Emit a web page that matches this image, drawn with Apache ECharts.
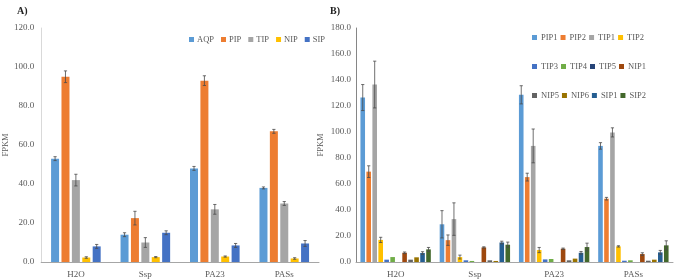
<!DOCTYPE html>
<html><head><meta charset="utf-8">
<script src="https://cdn.jsdelivr.net/npm/echarts@6/dist/echarts.min.js"></script>
<style>html,body{margin:0;padding:0;background:#fff}#c{width:675px;height:279px}</style>
</head><body><div id="c"></div>
<script>
const categories = ['H2O', 'Ssp', 'PA23', 'PASs'];

// Panel A
const namesA = ['AQP', 'PIP', 'TIP', 'NIP', 'SIP'];
const AQP = [53.0, 14.0, 48.0, 38.0];
const PIP = [95.0, 22.5, 93.0, 67.0];
const TIP = [42.0, 10.0, 27.0, 30.0];
const NIP = [2.3, 2.5, 2.8, 1.8];
const SIP = [8.0, 15.0, 8.5, 9.5];
const errAQP = [1.0, 1.0, 1.0, 0.5];
const errPIP = [3.0, 3.5, 2.5, 1.0];
const errTIP = [3.0, 2.5, 2.5, 1.0];
const errNIP = [0.4, 0.3, 0.3, 0.4];
const errSIP = [1.0, 1.0, 1.0, 1.5];

// Panel B
const namesB = ['PIP1','PIP2','TIP1','TIP2','TIP3','TIP4','TIP5','NIP1','NIP5','NIP6','SIP1','SIP2'];
const PIP1 = [126.5, 29.0, 128.6, 89.3];
const PIP2 = [69.5, 16.8, 65.3, 48.7];
const TIP1 = [136.5, 33.0, 89.3, 99.7];
const TIP2 = [17.0, 3.8, 9.2, 12.0];
const TIP3 = [1.8, 1.3, 2.0, 1.0];
const TIP4 = [3.8, 0.8, 2.3, 1.3];
const TIP5 = [0.0, 0.0, 0.0, 0.0];
const NIP1 = [7.1, 11.2, 10.2, 6.1];
const NIP5 = [1.8, 1.3, 1.3, 1.0];
const NIP6 = [3.6, 0.8, 2.6, 1.8];
const SIP1 = [6.9, 15.0, 7.1, 7.4];
const SIP2 = [9.7, 13.3, 11.5, 12.8];
const errPIP1 = [10.0, 10.5, 7.0, 2.5];
const errPIP2 = [4.5, 4.0, 3.0, 1.0];
const errTIP1 = [18.0, 12.5, 13.0, 3.5];
const errTIP2 = [2.0, 1.5, 2.0, 0.5];
const errTIP3 = [0, 0, 0, 0];
const errTIP4 = [0, 0, 0, 0];
const errTIP5 = [0, 0, 0, 0];
const errNIP1 = [0.6, 0.5, 0.5, 1.0];
const errNIP5 = [0, 0, 0, 0];
const errNIP6 = [0, 0, 0, 0];
const errSIP1 = [1.0, 1.0, 1.0, 1.5];
const errSIP2 = [1.5, 2.0, 3.0, 3.5];

const ticksA = {min: 0, max: 120, interval: 20};
const ticksB = {min: 0, max: 180, interval: 20};

const valsA = [AQP, PIP, TIP, NIP, SIP];
const errsA = [errAQP, errPIP, errTIP, errNIP, errSIP];
const valsB = [PIP1, PIP2, TIP1, TIP2, TIP3, TIP4, TIP5, NIP1, NIP5, NIP6, SIP1, SIP2];
const errsB = [errPIP1, errPIP2, errTIP1, errTIP2, errTIP3, errTIP4, errTIP5, errNIP1, errNIP5, errNIP6, errSIP1, errSIP2];

const colorsA = ['#5B9BD5', '#ED7D31', '#A5A5A5', '#FFC000', '#4472C4'];
const colorsB = ['#5B9BD5', '#ED7D31', '#A5A5A5', '#FFC000', '#4472C4', '#70AD47', '#264478', '#9E480E', '#636363', '#997300', '#255E91', '#43682B'];

const FONT = 'Liberation Serif';
const bwA = 8, bwB = 4.6, gapR = 0.3;

function errRender(n, bw) {
  return function (params, api) {
    const ci = api.value(0), si = api.value(1), v = api.value(2), e = api.value(3);
    if (!e) return null;
    const c = api.coord([ci, v]);
    const total = n * bw + (n - 1) * bw * gapR;
    const x = c[0] - total / 2 + si * bw * (1 + gapR) + bw / 2;
    const top = api.coord([ci, v + e])[1];
    const bot = api.coord([ci, Math.max(0, v - e)])[1];
    const cap = 1.6;
    const st = {stroke: '#4a4a4a', lineWidth: 0.8};
    return {type: 'group', children: [
      {type: 'line', shape: {x1: x, y1: top, x2: x, y2: bot}, style: st},
      {type: 'line', shape: {x1: x - cap, y1: top, x2: x + cap, y2: top}, style: st},
      {type: 'line', shape: {x1: x - cap, y1: bot, x2: x + cap, y2: bot}, style: st}
    ]};
  };
}

function errData(vals, errs) {
  const d = [];
  vals.forEach((arr, si) => arr.forEach((v, ci) => d.push([ci, si, v, errs[si][ci]])));
  return d;
}

const series = [];
namesA.forEach((n, i) => series.push({
  name: n, type: 'bar', xAxisIndex: 0, yAxisIndex: 0, data: valsA[i],
  barWidth: bwA, barGap: '30%', itemStyle: {color: colorsA[i]}
}));
series.push({type: 'custom', xAxisIndex: 0, yAxisIndex: 0, renderItem: errRender(5, bwA),
  data: errData(valsA, errsA), encode: {x: 0, y: 2}, z: 5, silent: true});
namesB.forEach((n, i) => series.push({
  name: n, type: 'bar', xAxisIndex: 1, yAxisIndex: 1, data: valsB[i],
  barWidth: bwB, barGap: '30%', itemStyle: {color: colorsB[i]}
}));
series.push({type: 'custom', xAxisIndex: 1, yAxisIndex: 1, renderItem: errRender(12, bwB),
  data: errData(valsB, errsB), encode: {x: 0, y: 2}, z: 5, silent: true});

const legendText = {fontFamily: FONT, fontSize: 8.5, color: '#595959'};
const legendB = [0, 1, 2].map(r => ({
  data: namesB.slice(r * 4, r * 4 + 4),
  left: 527, top: 28 + r * 29, itemWidth: 5, itemHeight: 5, itemGap: 3,
  icon: 'rect', selectedMode: false,
  textStyle: Object.assign({width: 26, padding: [0, 0, 0, -1]}, legendText)
}));

const axisLabel = {fontFamily: FONT, fontSize: 9, color: '#595959'};

const option = {
  animation: false,
  title: [
    {text: 'A)', left: 12, top: 1, textStyle: {fontFamily: FONT, fontSize: 10, fontWeight: 'bold', color: '#222'}},
    {text: 'B)', left: 325, top: 1, textStyle: {fontFamily: FONT, fontSize: 10, fontWeight: 'bold', color: '#222'}}
  ],
  legend: [{
    data: namesA, left: 184, top: 30, itemWidth: 5, itemHeight: 5, itemGap: 7,
    icon: 'rect', selectedMode: false, textStyle: Object.assign({padding: [0, 0, 0, -2]}, legendText)
  }].concat(legendB),
  grid: [
    {left: 38, top: 28, width: 281, height: 235},
    {left: 356, top: 28, width: 317, height: 235}
  ],
  xAxis: [0, 1].map(g => ({
    type: 'category', gridIndex: g, data: categories,
    axisLine: {lineStyle: {color: '#A6A6A6', width: 1}},
    axisTick: {show: false},
    axisLabel: Object.assign({margin: 8}, axisLabel)
  })),
  yAxis: [
    {type: 'value', gridIndex: 0, min: ticksA.min, max: ticksA.max, interval: ticksA.interval,
     name: 'FPKM', nameLocation: 'middle', nameGap: 29,
     nameTextStyle: {fontFamily: FONT, fontSize: 8.5, color: '#595959'},
     axisLine: {show: true, lineStyle: {color: '#D9D9D9'}}, axisTick: {show: false},
     splitLine: {show: false},
     axisLabel: Object.assign({margin: 7, formatter: v => v.toFixed(1)}, axisLabel)},
    {type: 'value', gridIndex: 1, min: ticksB.min, max: ticksB.max, interval: ticksB.interval,
     name: 'FPKM', nameLocation: 'middle', nameGap: 31,
     nameTextStyle: {fontFamily: FONT, fontSize: 8.5, color: '#595959'},
     axisLine: {show: true, lineStyle: {color: '#868686'}}, axisTick: {show: false},
     splitLine: {show: false},
     axisLabel: Object.assign({margin: 5, formatter: v => v.toFixed(1)}, axisLabel)}
  ],
  series: series
};
echarts.init(document.getElementById('c'), null, {renderer: 'canvas'}).setOption(option);
</script></body></html>
